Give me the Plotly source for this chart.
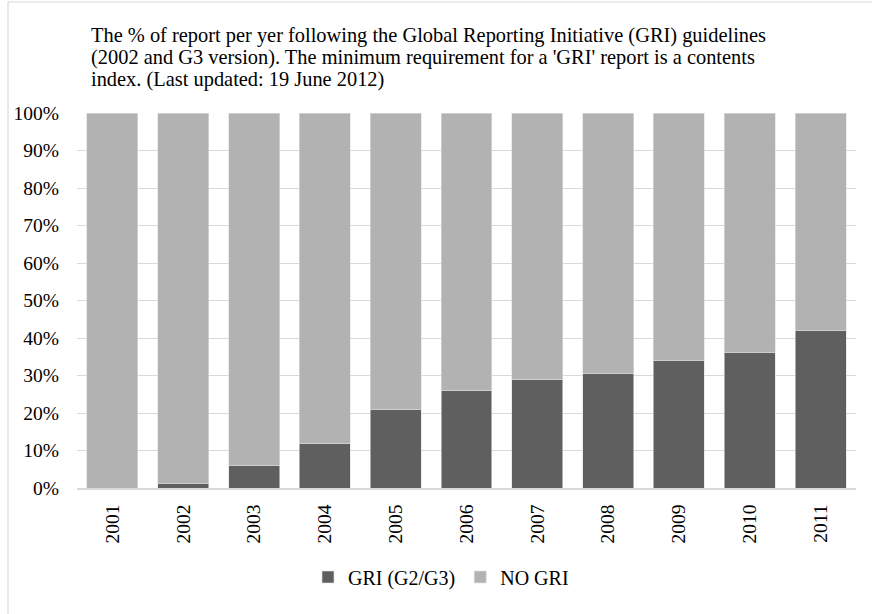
import plotly.graph_objects as go

years = ["2001", "2002", "2003", "2004", "2005", "2006", "2007", "2008", "2009", "2010", "2011"]
gri = [0.0, 1.3, 5.9, 11.8, 20.9, 26.0, 28.9, 30.5, 33.9, 36.1, 42.0]
no_gri = [100 - v for v in gri]

title_lines = [
    "The % of report per yer following the Global Reporting Initiative (GRI) guidelines",
    "(2002 and G3 version). The minimum requirement for a 'GRI' report is a contents",
    "index. (Last updated: 19 June 2012)",
]

W, H = 872, 614
L, R, T, B = 77, 16, 113, 126
pw, ph = W - L - R, H - T - B

fig = go.Figure()
fig.add_trace(go.Bar(x=years, y=gri, name="GRI (G2/G3)",
                     marker=dict(color="#5f5f5f", line=dict(color="#e0e0e0", width=0.6))))
fig.add_trace(go.Bar(x=years, y=no_gri, name="NO GRI",
                     marker=dict(color="#b2b2b2", line=dict(color="#e0e0e0", width=0.6))))

font = "Liberation Serif, Times New Roman, serif"
title_y = [35, 57, 79]
annotations = []
for line, yy in zip(title_lines, title_y):
    annotations.append(dict(text=line, xref="paper", yref="paper",
                            x=(89 - L) / pw, xanchor="left",
                            y=(488 - yy) / ph, yanchor="middle",
                            showarrow=False, font=dict(family=font, size=20.4, color="black")))

fig.update_layout(
    barmode="stack",
    bargap=0.28,
    width=W, height=H,
    margin=dict(l=L, r=R, t=T, b=B),
    paper_bgcolor="white", plot_bgcolor="white",
    font=dict(family=font, size=19.5, color="black"),
    annotations=annotations,
    legend=dict(orientation="h", x=(441 - L) / pw, xanchor="center",
                y=(488 - 577) / ph, yanchor="middle",
                font=dict(family=font, size=20), itemwidth=30, traceorder="normal"),
    xaxis=dict(type="category", tickangle=-90, showgrid=False, showline=True,
               linecolor="#d9d9d9", linewidth=1.5, ticks="", ticklabelstandoff=7,
               tickfont=dict(size=19.5)),
    yaxis=dict(range=[0, 100], dtick=10, ticksuffix="%", showgrid=True,
               gridcolor="#d9d9d9", gridwidth=1.2, zeroline=False, ticks="",
               ticklabelstandoff=17, tickfont=dict(size=19.5)),
    shapes=[dict(type="rect", xref="paper", yref="paper",
                 x0=(8 - L) / pw, x1=(880 - L) / pw,
                 y0=(488 - 620) / ph, y1=(488 - 2) / ph,
                 line=dict(color="#d9d9d9", width=1.2), layer="below")],
)

fig.write_html("out.html")
